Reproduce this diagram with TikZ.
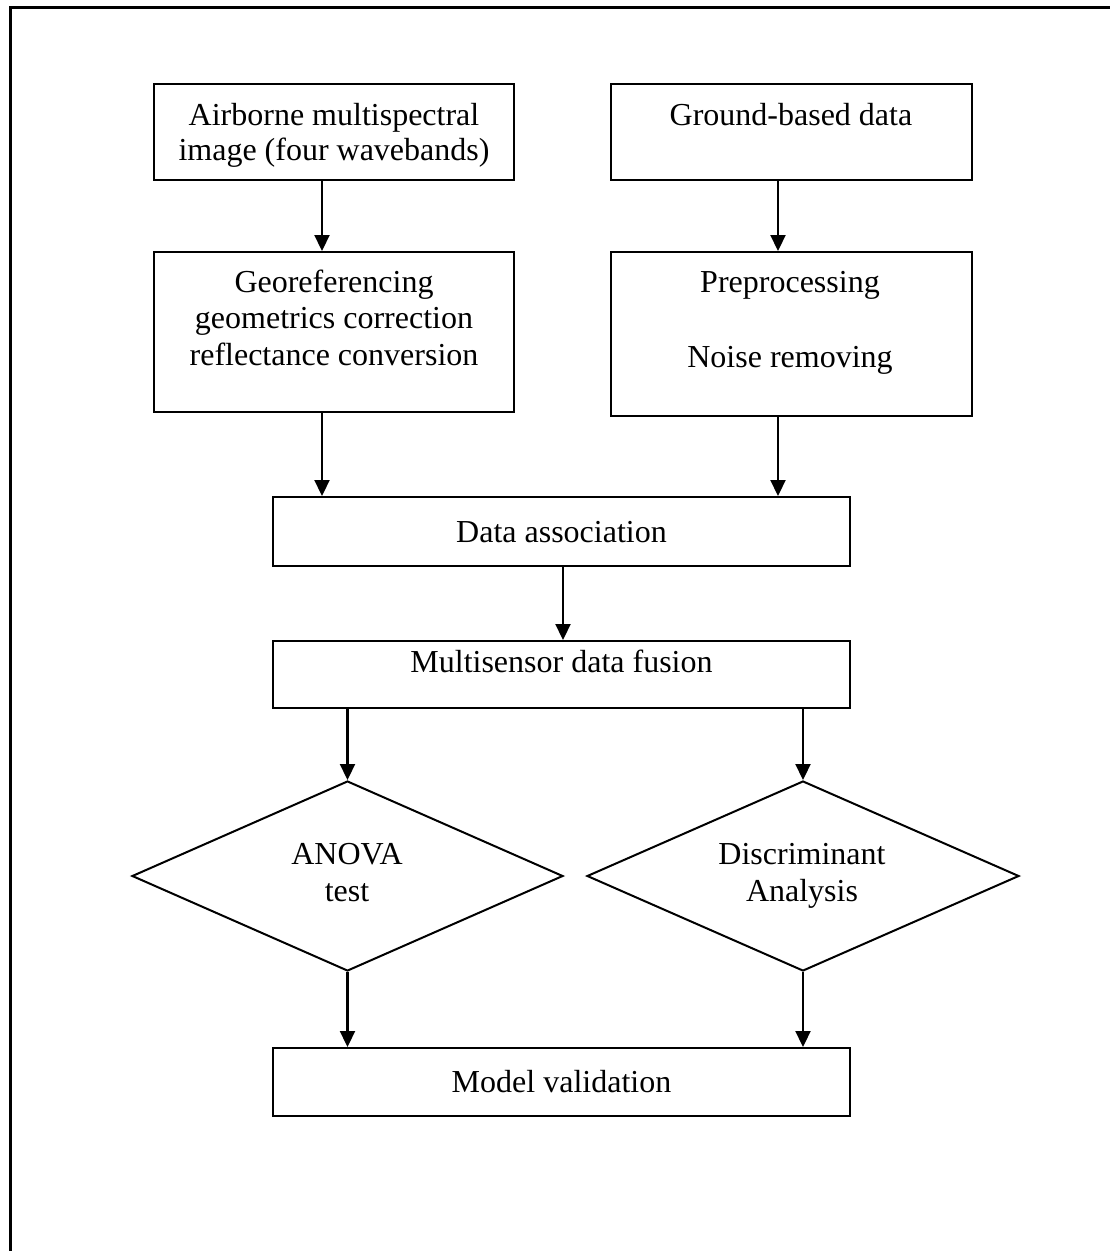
\documentclass[tikz,border=0pt]{standalone}
\usepackage{fontspec}
\setmainfont{Liberation Serif}
\usetikzlibrary{arrows.meta,shapes.geometric}
\begin{document}
\begin{tikzpicture}[x=1pt,y=-1pt,
  stepbox/.style={draw,rectangle,line width=2pt,inner sep=0pt},
  decision/.style={draw,diamond,line width=2pt,inner sep=0pt},
  lbl/.style={font=\fontsize{32}{36}\selectfont,anchor=base,inner sep=0pt},
  arr/.style={line width=2.2pt,-{Triangle[length=16pt,width=15pt]}},
  frameline/.style={line width=2.5pt}]
\useasboundingbox (0,0) rectangle (1110,1251);

% outer frame (open at the right and bottom)
\coordinate (fa) at (10.5,1251);
\coordinate (fb) at (10.5,7.5);
\coordinate (fc) at (1110,7.5);
\draw[frameline] (fa) -- (fb) -- (fc);

% process boxes
\node[stepbox,minimum width=360pt,minimum height=96pt]  (air)   at (334,132)   {};
\node[stepbox,minimum width=361pt,minimum height=96pt]  (gnd)   at (791.5,132) {};
\node[stepbox,minimum width=360pt,minimum height=160pt] (geo)   at (334,332)   {};
\node[stepbox,minimum width=361pt,minimum height=164pt] (pre)   at (791.5,334) {};
\node[stepbox,minimum width=577pt,minimum height=69pt]  (assoc) at (561.5,531.5) {};
\node[stepbox,minimum width=577pt,minimum height=67pt]  (fus)   at (561.5,674.5) {};
\node[decision,minimum width=431pt,minimum height=190pt] (anova) at (347.5,876) {};
\node[decision,minimum width=432pt,minimum height=190pt] (disc)  at (803,876)   {};
\node[stepbox,minimum width=577pt,minimum height=68pt]  (valid) at (561.5,1082) {};

% texts
\node[lbl] (airA) at (334,125) {Airborne multispectral};
\node[lbl] (airB) at (334,160) {image (four wavebands)};
\node[lbl] (gndA) at (791,125) {Ground-based data};
\node[lbl] (geoA) at (334,292) {Georeferencing};
\node[lbl] (geoB) at (334,328) {geometrics correction};
\node[lbl] (geoC) at (334,365) {reflectance conversion};
\node[lbl] (preA) at (790,292) {Preprocessing};
\node[lbl] (preB) at (790,367) {Noise removing};
\node[lbl] (assocA) at (561.5,542) {Data association};
\node[lbl] (fusA) at (561.5,672) {Multisensor data fusion};
\node[lbl] (anovaA) at (347,864) {ANOVA};
\node[lbl] (anovaB) at (347,901) {test};
\node[lbl] (discA) at (802,864) {Discriminant};
\node[lbl] (discB) at (802,901) {Analysis};
\node[lbl] (validA) at (561.5,1092) {Model validation};

% connector columns
\coordinate (cl) at (322,0);
\coordinate (cr) at (778,0);
\coordinate (cm) at (563,0);

% connectors
\draw[arr] (cl |- air.south) -- (cl |- geo.north);
\draw[arr] (cr |- gnd.south) -- (cr |- pre.north);
\draw[arr] (cl |- geo.south) -- (cl |- assoc.north);
\draw[arr] (cr |- pre.south) -- (cr |- assoc.north);
\draw[arr] (cm |- assoc.south) -- (cm |- fus.north);
\draw[arr] (fus.south -| anova.north) -- (anova.north);
\draw[arr] (fus.south -| disc.north) -- (disc.north);
\draw[arr] (anova.south) -- (anova.south |- valid.north);
\draw[arr] (disc.south) -- (disc.south |- valid.north);
\end{tikzpicture}
\end{document}
